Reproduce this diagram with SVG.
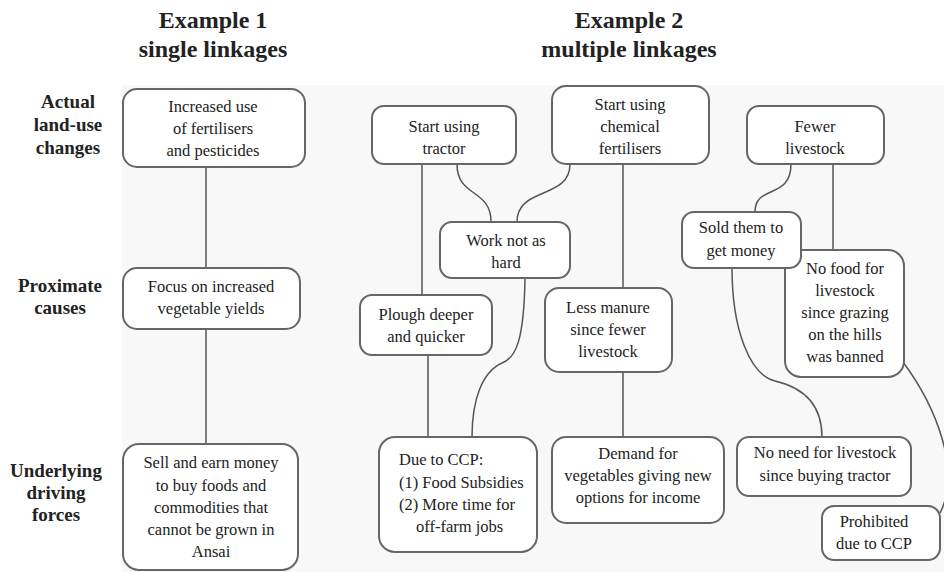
<svg xmlns="http://www.w3.org/2000/svg" width="944" height="572" viewBox="0 0 944 572">
<rect x="0" y="0" width="944" height="572" fill="#fff"/>
<rect x="122" y="85" width="822" height="487" fill="#f8f8f8"/>
<g id="headers">
<text x="213" y="28" font-family="Liberation Serif" font-weight="bold" font-size="24" fill="#222" text-anchor="middle">Example 1</text>
<text x="213" y="57" font-family="Liberation Serif" font-weight="bold" font-size="24" fill="#222" text-anchor="middle">single linkages</text>
<text x="629" y="28" font-family="Liberation Serif" font-weight="bold" font-size="24" fill="#222" text-anchor="middle">Example 2</text>
<text x="629" y="57" font-family="Liberation Serif" font-weight="bold" font-size="24" fill="#222" text-anchor="middle">multiple linkages</text>
</g>
<g id="row-labels" font-family="Liberation Serif" font-weight="bold" font-size="19" fill="#222" text-anchor="middle">
<text x="68" y="108">Actual</text>
<text x="68" y="131">land-use</text>
<text x="68" y="154">changes</text>
<text x="60" y="292">Proximate</text>
<text x="60" y="314">causes</text>
<text x="56" y="477">Underlying</text>
<text x="56" y="499">driving</text>
<text x="56" y="521">forces</text>
</g>
<g id="connectors" fill="none" stroke="#555" stroke-width="1.5">
<path d="M206,167 V268"/>
<path d="M206,329 V444"/>
<path d="M422,164 V295"/>
<path d="M457,164 C457,198 491,188 491,222"/>
<path d="M570,164 C570,200 517,186 517,222"/>
<path d="M428,355 V437"/>
<path d="M525,278 C524,340 516,358 502,363 C482,372 472,400 472,437"/>
<path d="M623,164 V288"/>
<path d="M623,372 V437"/>
<path d="M791,164 C791,200 755,184 755,212"/>
<path d="M833,164 V250"/>
<path d="M732,268 C732,330 750,375 775,381 C805,388 822,405 822,437"/>
<path d="M903,362 C935,405 962,470 940,513"/>
</g>
<g id="nodes" font-family="Liberation Serif" font-size="16.5" fill="#222" text-anchor="middle">
<g id="n-increased">
<rect x="123" y="89" width="182" height="78" rx="14" fill="#fff" stroke="#666" stroke-width="2"/>
<text x="213" y="112">Increased use</text>
<text x="213" y="134">of fertilisers</text>
<text x="213" y="156">and pesticides</text>
</g>
<g id="n-focus">
<rect x="123" y="268" width="177" height="61" rx="14" fill="#fff" stroke="#666" stroke-width="2"/>
<text x="211" y="292">Focus on increased</text>
<text x="211" y="314">vegetable yields</text>
</g>
<g id="n-sell">
<rect x="123" y="444" width="175" height="126" rx="16" fill="#fff" stroke="#666" stroke-width="2"/>
<text x="211" y="468">Sell and earn money</text>
<text x="211" y="491">to buy foods and</text>
<text x="211" y="513">commodities that</text>
<text x="211" y="535">cannot be grown in</text>
<text x="211" y="557">Ansai</text>
</g>
<g id="n-tractor">
<rect x="372" y="106" width="144" height="58" rx="12" fill="#fff" stroke="#666" stroke-width="2"/>
<text x="444" y="132">Start using</text>
<text x="444" y="154">tractor</text>
</g>
<g id="n-chemical">
<rect x="552" y="86" width="157" height="78" rx="14" fill="#fff" stroke="#666" stroke-width="2"/>
<text x="630" y="110">Start using</text>
<text x="630" y="132">chemical</text>
<text x="630" y="154">fertilisers</text>
</g>
<g id="n-fewer">
<rect x="747" y="106" width="137" height="58" rx="12" fill="#fff" stroke="#666" stroke-width="2"/>
<text x="815" y="132">Fewer</text>
<text x="815" y="154">livestock</text>
</g>
<g id="n-work">
<rect x="440" y="222" width="130" height="56" rx="12" fill="#fff" stroke="#666" stroke-width="2"/>
<text x="506" y="246">Work not as</text>
<text x="506" y="268">hard</text>
</g>
<g id="n-plough">
<rect x="360" y="295" width="132" height="60" rx="12" fill="#fff" stroke="#666" stroke-width="2"/>
<text x="426" y="320">Plough deeper</text>
<text x="426" y="342">and quicker</text>
</g>
<g id="n-manure">
<rect x="545" y="288" width="127" height="84" rx="14" fill="#fff" stroke="#666" stroke-width="2"/>
<text x="608" y="313">Less manure</text>
<text x="608" y="335">since fewer</text>
<text x="608" y="357">livestock</text>
</g>
<g id="n-ccp" text-anchor="start">
<rect x="379" y="437" width="158" height="115" rx="16" fill="#fff" stroke="#666" stroke-width="2"/>
<text x="399" y="465">Due to CCP:</text>
<text x="399" y="488">(1) Food Subsidies</text>
<text x="399" y="510">(2) More time for</text>
<text x="416" y="532">off-farm jobs</text>
</g>
<g id="n-demand">
<rect x="552" y="437" width="172" height="86" rx="14" fill="#fff" stroke="#666" stroke-width="2"/>
<text x="638" y="459">Demand for</text>
<text x="638" y="481">vegetables giving new</text>
<text x="638" y="503">options for income</text>
</g>
<g id="n-nofood">
<rect x="785" y="250" width="119" height="127" rx="16" fill="#fff" stroke="#666" stroke-width="2"/>
<text x="845" y="274">No food for</text>
<text x="845" y="296">livestock</text>
<text x="845" y="318">since grazing</text>
<text x="845" y="340">on the hills</text>
<text x="845" y="362">was banned</text>
</g>
<g id="n-sold">
<rect x="682" y="212" width="119" height="56" rx="12" fill="#fff" stroke="#666" stroke-width="2"/>
<text x="741" y="233">Sold them to</text>
<text x="741" y="256">get money</text>
</g>
<g id="n-noneed">
<rect x="737" y="437" width="174" height="59" rx="12" fill="#fff" stroke="#666" stroke-width="2"/>
<text x="825" y="458">No need for livestock</text>
<text x="825" y="481">since buying tractor</text>
</g>
<g id="n-prohibited">
<rect x="822" y="506" width="118" height="54" rx="12" fill="#fff" stroke="#666" stroke-width="2"/>
<text x="874" y="527">Prohibited</text>
<text x="874" y="549">due to CCP</text>
</g>
</g>
</svg>
